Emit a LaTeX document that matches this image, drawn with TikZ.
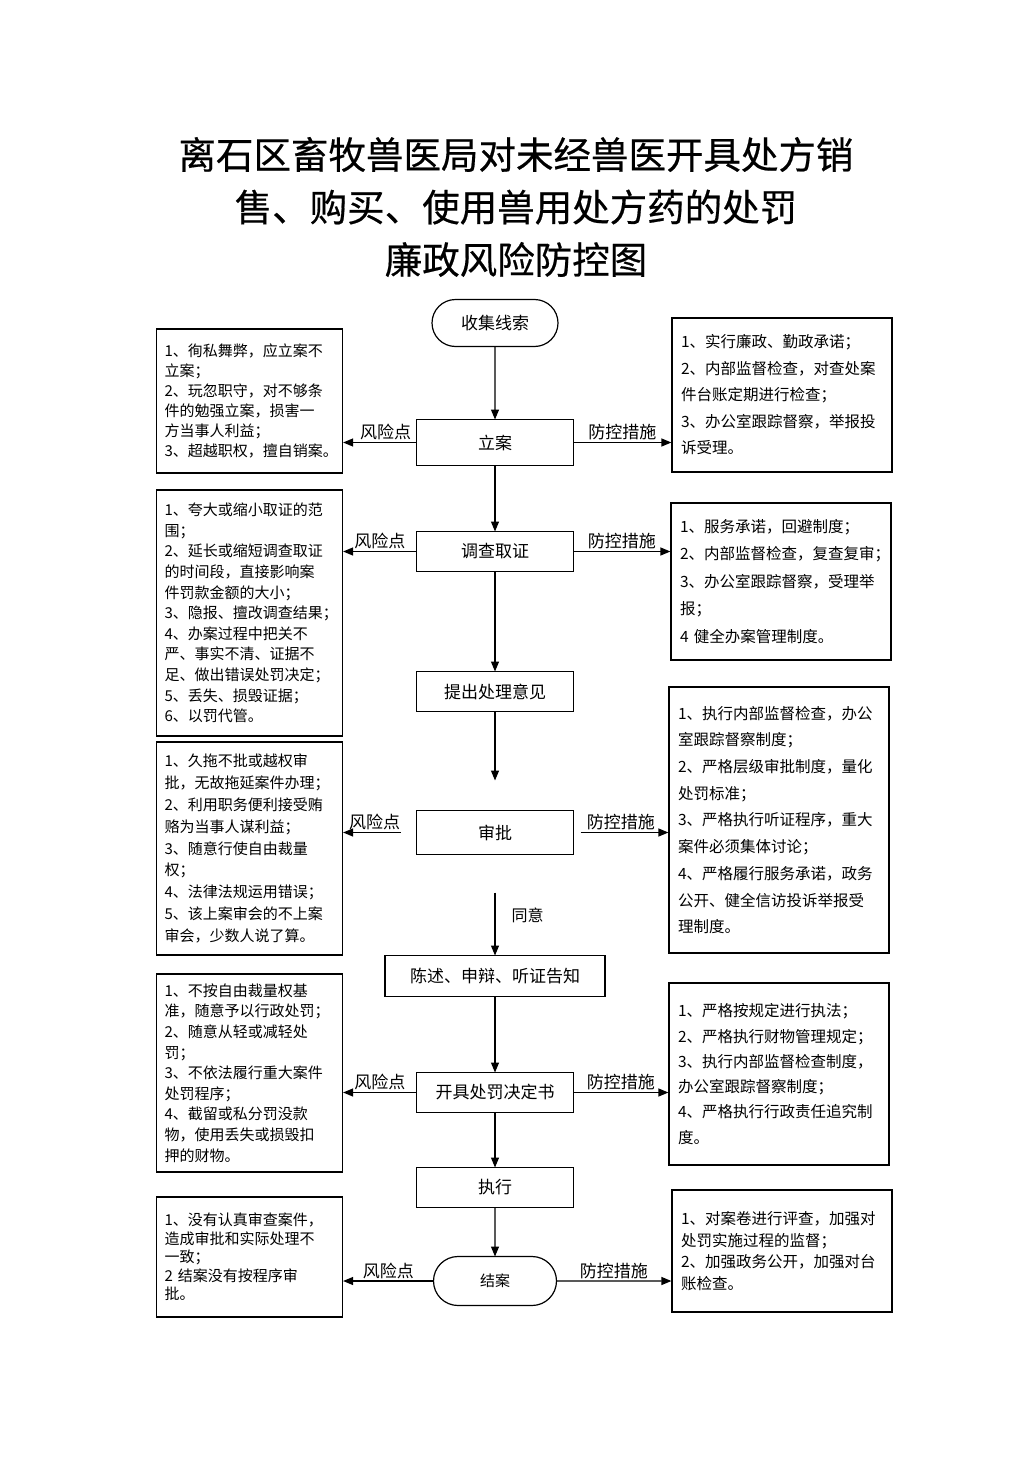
\documentclass[tikz,border=0pt]{standalone}
\usepackage{fontspec}
\setmainfont{Noto Sans CJK SC}
\newfontfamily\titlefont[FakeBold=0.5]{Noto Sans CJK SC}
\usetikzlibrary{positioning}
\usetikzlibrary{shapes.misc}
\usetikzlibrary{arrows.meta}

\begin{document}
\begin{tikzpicture}[
  x=1pt, y=-1pt,
  line width=1.2pt,
  stagebox/.style={draw, align=center, minimum width=157pt, minimum height=40pt, inner sep=2pt, outer sep=0pt, font=\fontsize{17}{20}\selectfont},
  endpoint/.style={draw, rounded rectangle, minimum width=130pt, minimum height=47pt, inner sep=2pt, outer sep=0pt, font=\fontsize{17}{20}\selectfont},
  riskbox/.style={draw, align=left, text width=170pt, inner xsep=8pt, inner ysep=0pt, font=\fontsize{15}{#1}\selectfont},
  ctrlbox/.style={draw, align=left, text width=202pt, inner xsep=9pt, inner ysep=0pt, font=\fontsize{15.5}{#1}\selectfont},
  tag/.style={font=\fontsize{17}{20}\selectfont, inner sep=2pt},
  arrow/.style={-{Triangle[length=10pt, width=8pt]}, line width=1.2pt}
]
\fill[white] (0,0) rectangle (1033,1461);
\useasboundingbox (0,0) rectangle (1033,1461);

\node[font=\titlefont\fontsize{37.5}{52.5}\selectfont, align=center] (title) at (516,207)
  {离石区畜牧兽医局对未经兽医开具处方销\\售、购买、使用兽用处方药的处罚\\廉政风险防控图};

\node[endpoint] (collect) at (495,323) {收集线索};
\node[stagebox, minimum height=46pt, below=73pt of collect] (file) {立案};
\node[stagebox, below=66pt of file] (probe) {调查取证};
\node[stagebox, below=100pt of probe] (propose) {提出处理意见};
\node[stagebox, minimum height=44pt, below=99pt of propose] (approve) {审批};
\node[stagebox, minimum width=220pt, minimum height=41pt, below=101pt of approve] (notify) {陈述、申辩、听证告知};
\node[stagebox, below=76pt of notify] (decide) {开具处罚决定书};
\node[stagebox, below=55pt of decide] (execute) {执行};
\node[endpoint, minimum width=127pt, minimum height=49pt, font=\fontsize{15}{18}\selectfont, below=49pt of execute] (close) {结案};

\node[riskbox=20, minimum height=144pt] (risk1) at (249.5,401)
  {1、徇私舞弊，应立案不\\立案；\\2、玩忽职守，对不够条\\件的勉强立案，损害一\\方当事人利益；\\3、超越职权，擅自销案。};
\node[riskbox=20.6, minimum height=246pt] (risk2) at (249.5,613)
  {1、夸大或缩小取证的范\\围；\\2、延长或缩短调查取证\\的时间段，直接影响案\\件罚款金额的大小；\\3、隐报、擅改调查结果；\\4、办案过程中把关不\\严、事实不清、证据不\\足、做出错误处罚决定；\\5、丢失、损毁证据；\\6、以罚代管。};
\node[riskbox=21.9, minimum height=213pt] (risk3) at (249.5,848.5)
  {1、久拖不批或越权审\\批，无故拖延案件办理；\\2、利用职务便利接受贿\\赂为当事人谋利益；\\3、随意行使自由裁量\\权；\\4、法律法规运用错误；\\5、该上案审会的不上案\\审会，少数人说了算。};
\node[riskbox=20.6, minimum height=198pt] (risk4) at (249.5,1073)
  {1、不按自由裁量权基\\准，随意予以行政处罚；\\2、随意从轻或减轻处\\罚；\\3、不依法履行重大案件\\处罚程序；\\4、截留或私分罚没款\\物，使用丢失或损毁扣\\押的财物。};
\node[riskbox=18.5, minimum height=120pt] (risk5) at (249.5,1257)
  {1、没有认真审查案件，\\造成审批和实际处理不\\一致；\\2 结案没有按程序审\\批。};

\node[ctrlbox=26.5, minimum height=154pt] (ctrl1) at (782,395)
  {1、实行廉政、勤政承诺；\\2、内部监督检查，对查处案\\件台账定期进行检查；\\3、办公室跟踪督察，举报投\\诉受理。};
\node[ctrlbox=27.5, minimum height=157pt] (ctrl2) at (781,581.5)
  {1、服务承诺，回避制度；\\2、内部监督检查，复查复审；\\3、办公室跟踪督察，受理举\\报；\\4 健全办案管理制度。};
\node[ctrlbox=26.7, minimum height=266pt] (ctrl3) at (779,820)
  {1、执行内部监督检查，办公\\室跟踪督察制度；\\2、严格层级审批制度，量化\\处罚标准；\\3、严格执行听证程序，重大\\案件必须集体讨论；\\4、严格履行服务承诺，政务\\公开、健全信访投诉举报受\\理制度。};
\node[ctrlbox=25.3, minimum height=182pt] (ctrl4) at (779,1074)
  {1、严格按规定进行执法；\\2、严格执行财物管理规定；\\3、执行内部监督检查制度，\\办公室跟踪督察制度；\\4、严格执行行政责任追究制\\度。};
\node[ctrlbox=21.7, minimum height=122pt] (ctrl5) at (782,1251)
  {1、对案卷进行评查，加强对\\处罚实施过程的监督；\\2、加强政务公开，加强对台\\账检查。};

\draw[arrow] (collect) -- (file);
\draw[arrow] (file) -- (probe);
\draw[arrow] (probe) -- (propose);
\draw[arrow, shorten >=30pt] (propose) -- (approve);
\draw[arrow, shorten <=38pt] (approve) -- node[tag, right=14pt, pos=0.6, font=\fontsize{16}{19}\selectfont]{同意} (notify);
\draw[arrow] (notify) -- (decide);
\draw[arrow] (decide) -- (execute);
\draw[arrow] (execute) -- (close);

\draw[arrow] (file) -- node[tag, above, pos=0.42]{风险点} (file -| risk1.east);
\draw[arrow] (file) -- node[tag, above]{防控措施} (file -| ctrl1.west);
\draw[arrow] (probe) -- node[tag, above]{风险点} (probe -| risk2.east);
\draw[arrow] (probe) -- node[tag, above]{防控措施} (probe -| ctrl2.west);
\draw[arrow, shorten <=16pt] (approve) -- node[tag, above, pos=0.57]{风险点} (approve -| risk3.east);
\draw[arrow, shorten <=7pt] (approve) -- node[tag, above]{防控措施} (approve -| ctrl3.west);
\draw[arrow] (decide) -- node[tag, above]{风险点} (decide -| risk4.east);
\draw[arrow] (decide) -- node[tag, above]{防控措施} (decide -| ctrl4.west);
\draw[arrow] (close) -- node[tag, above]{风险点} (close -| risk5.east);
\draw[arrow] (close) -- node[tag, above]{防控措施} (close -| ctrl5.west);

\end{tikzpicture}
\end{document}
